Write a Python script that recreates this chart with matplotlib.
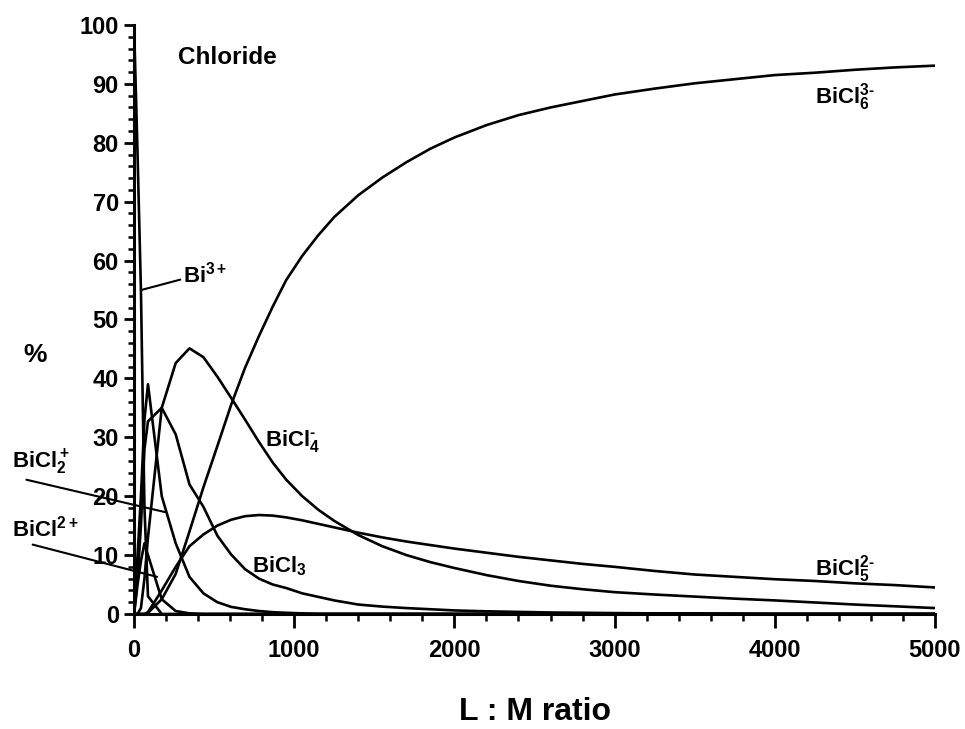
import matplotlib
matplotlib.use('Agg')
import matplotlib.pyplot as plt
import numpy as np

font = {'family': 'Liberation Sans', 'weight': 'bold', 'size': 17}
matplotlib.rc('font', **font)
matplotlib.rcParams['mathtext.fontset'] = 'custom'
matplotlib.rcParams['mathtext.rm'] = 'Liberation Sans:bold'
matplotlib.rcParams['mathtext.it'] = 'Liberation Sans:bold'
matplotlib.rcParams['mathtext.bf'] = 'Liberation Sans:bold'
matplotlib.rcParams['mathtext.default'] = 'rm'

## L:M ratio (x) and species distribution in %
ratio = [0, 22, 43, 65, 87, 173, 260, 346, 433, 520, 606, 693, 780, 866,
         950, 1050, 1150, 1250, 1400, 1550, 1700, 1850, 2000, 2200, 2400,
         2600, 2800, 3000, 3250, 3500, 3750, 4000, 4250, 4500, 4750, 5000]

bi = [100, 78, 55, 18, 3, 0, 0, 0, 0, 0, 0, 0, 0, 0,
      0, 0, 0, 0, 0, 0, 0, 0, 0, 0, 0,
      0, 0, 0, 0, 0, 0, 0, 0, 0, 0, 0]
bicl = [0, 5, 9, 12, 10, 2.5, 0.5, 0.1, 0, 0, 0, 0, 0, 0,
        0, 0, 0, 0, 0, 0, 0, 0, 0, 0, 0,
        0, 0, 0, 0, 0, 0, 0, 0, 0, 0, 0]
bicl2 = [0, 10, 20, 33, 39, 20, 12, 6.3, 3.5, 2.0, 1.2, 0.8, 0.5, 0.3,
         0.2, 0.1, 0, 0, 0, 0, 0, 0, 0, 0, 0,
         0, 0, 0, 0, 0, 0, 0, 0, 0, 0, 0]
bicl3 = [0, 6, 15, 28, 32.7, 35, 30.5, 22, 18.2, 13.3, 10.1, 7.6, 6.0, 5.0,
         4.4, 3.5, 2.9, 2.3, 1.6, 1.25, 1.0, 0.8, 0.6, 0.45, 0.35,
         0.25, 0.2, 0.15, 0.1, 0.1, 0.05, 0, 0, 0, 0, 0]
bicl4 = [0, 0, 1, 6, 13, 35, 42.6, 45.1, 43.6, 40.3, 36.7, 33.0, 29.2, 25.7,
         22.8, 20.0, 17.7, 15.8, 13.4, 11.5, 10.0, 8.8, 7.8, 6.6, 5.6,
         4.8, 4.2, 3.7, 3.3, 2.95, 2.6, 2.3, 1.95, 1.6, 1.3, 1.0]
bicl5 = [0, 0, 0, 0, 0.3, 4, 8, 11.5, 13.5, 15, 16, 16.6, 16.8, 16.7,
         16.4, 15.9, 15.3, 14.7, 13.8, 13.0, 12.3, 11.7, 11.1, 10.4, 9.7,
         9.1, 8.5, 8.0, 7.3, 6.7, 6.3, 5.9, 5.6, 5.2, 4.9, 4.5]
bicl6 = [0, 0, 0, 0, 0.2, 2.5, 6.8, 14, 21.5, 28.5, 35.5, 41.8, 47.2, 52.2,
         56.7, 60.8, 64.3, 67.4, 71.1, 74.1, 76.7, 79.0, 80.9, 83.0, 84.7,
         86.0, 87.1, 88.2, 89.2, 90.1, 90.8, 91.5, 91.9, 92.4, 92.8, 93.1]

species = [bi, bicl, bicl2, bicl3, bicl4, bicl5, bicl6]

fig = plt.figure(figsize=(9.65, 7.29), dpi=100)
ax = fig.add_axes([0.1389, 0.1578, 0.830, 0.8079])

for s in species:
    ax.plot(ratio, s, color='k', lw=1.9)

ax.set_xlim(0, 5000)
ax.set_ylim(0, 100)
ax.spines['top'].set_visible(False)
ax.spines['right'].set_visible(False)
ax.spines['left'].set_linewidth(2.2)
ax.spines['bottom'].set_linewidth(2.2)

ax.set_xticks(np.arange(0, 5001, 1000))
ax.set_xticks(np.arange(0, 5001, 200), minor=True)
ax.set_yticks(np.arange(0, 101, 10))
ax.set_yticks(np.arange(0, 101, 2), minor=True)
ax.tick_params(axis='x', which='major', length=10, width=2, pad=8)
ax.tick_params(axis='x', which='minor', length=5, width=1.8)
ax.tick_params(axis='y', which='major', length=7, width=2, pad=4)
ax.tick_params(axis='y', which='minor', length=4, width=1.8)

# labels
ax.text(275, 93.3, 'Chloride', fontsize=17.5)
fig.text(0.036, 0.513, '%', fontsize=19, ha='center', va='center')
fig.text(535/965, 1 - 712/729, 'L : M ratio', fontsize=23, ha='center', va='center')

lab = dict(fontsize=16, va='baseline')
ax.annotate(r'Bi$^{3+}$', xy=(44, 55), xytext=(306, 56.2),
            arrowprops=dict(arrowstyle='-', lw=1.5, shrinkA=0, shrinkB=0,
                            relpos=(0, 0.35)), **lab)
ax.text(818, 28.5, r'BiCl$_4^{\text{-}}$', **lab)
ax.annotate(r'BiCl$_2^+$', xy=(193, 17.3), xytext=(-762, 24.8),
            annotation_clip=False,
            arrowprops=dict(arrowstyle='-', lw=1.5, shrinkA=0, shrinkB=0,
                            relpos=(0.25, -0.1)), **lab)
ax.annotate(r'BiCl$^{2+}$', xy=(144, 6.3), xytext=(-762, 13.1),
            annotation_clip=False,
            arrowprops=dict(arrowstyle='-', lw=1.5, shrinkA=0, shrinkB=0,
                            relpos=(0.3, -0.1)), **lab)
ax.text(737, 7.0, r'BiCl$_3$', **lab)
ax.text(4251, 6.6, r'BiCl$_5^{\text{2-}}$', **lab)
ax.text(4251, 86.6, r'BiCl$_6^{\text{3-}}$', **lab)

fig.savefig('out.png', dpi=100)
